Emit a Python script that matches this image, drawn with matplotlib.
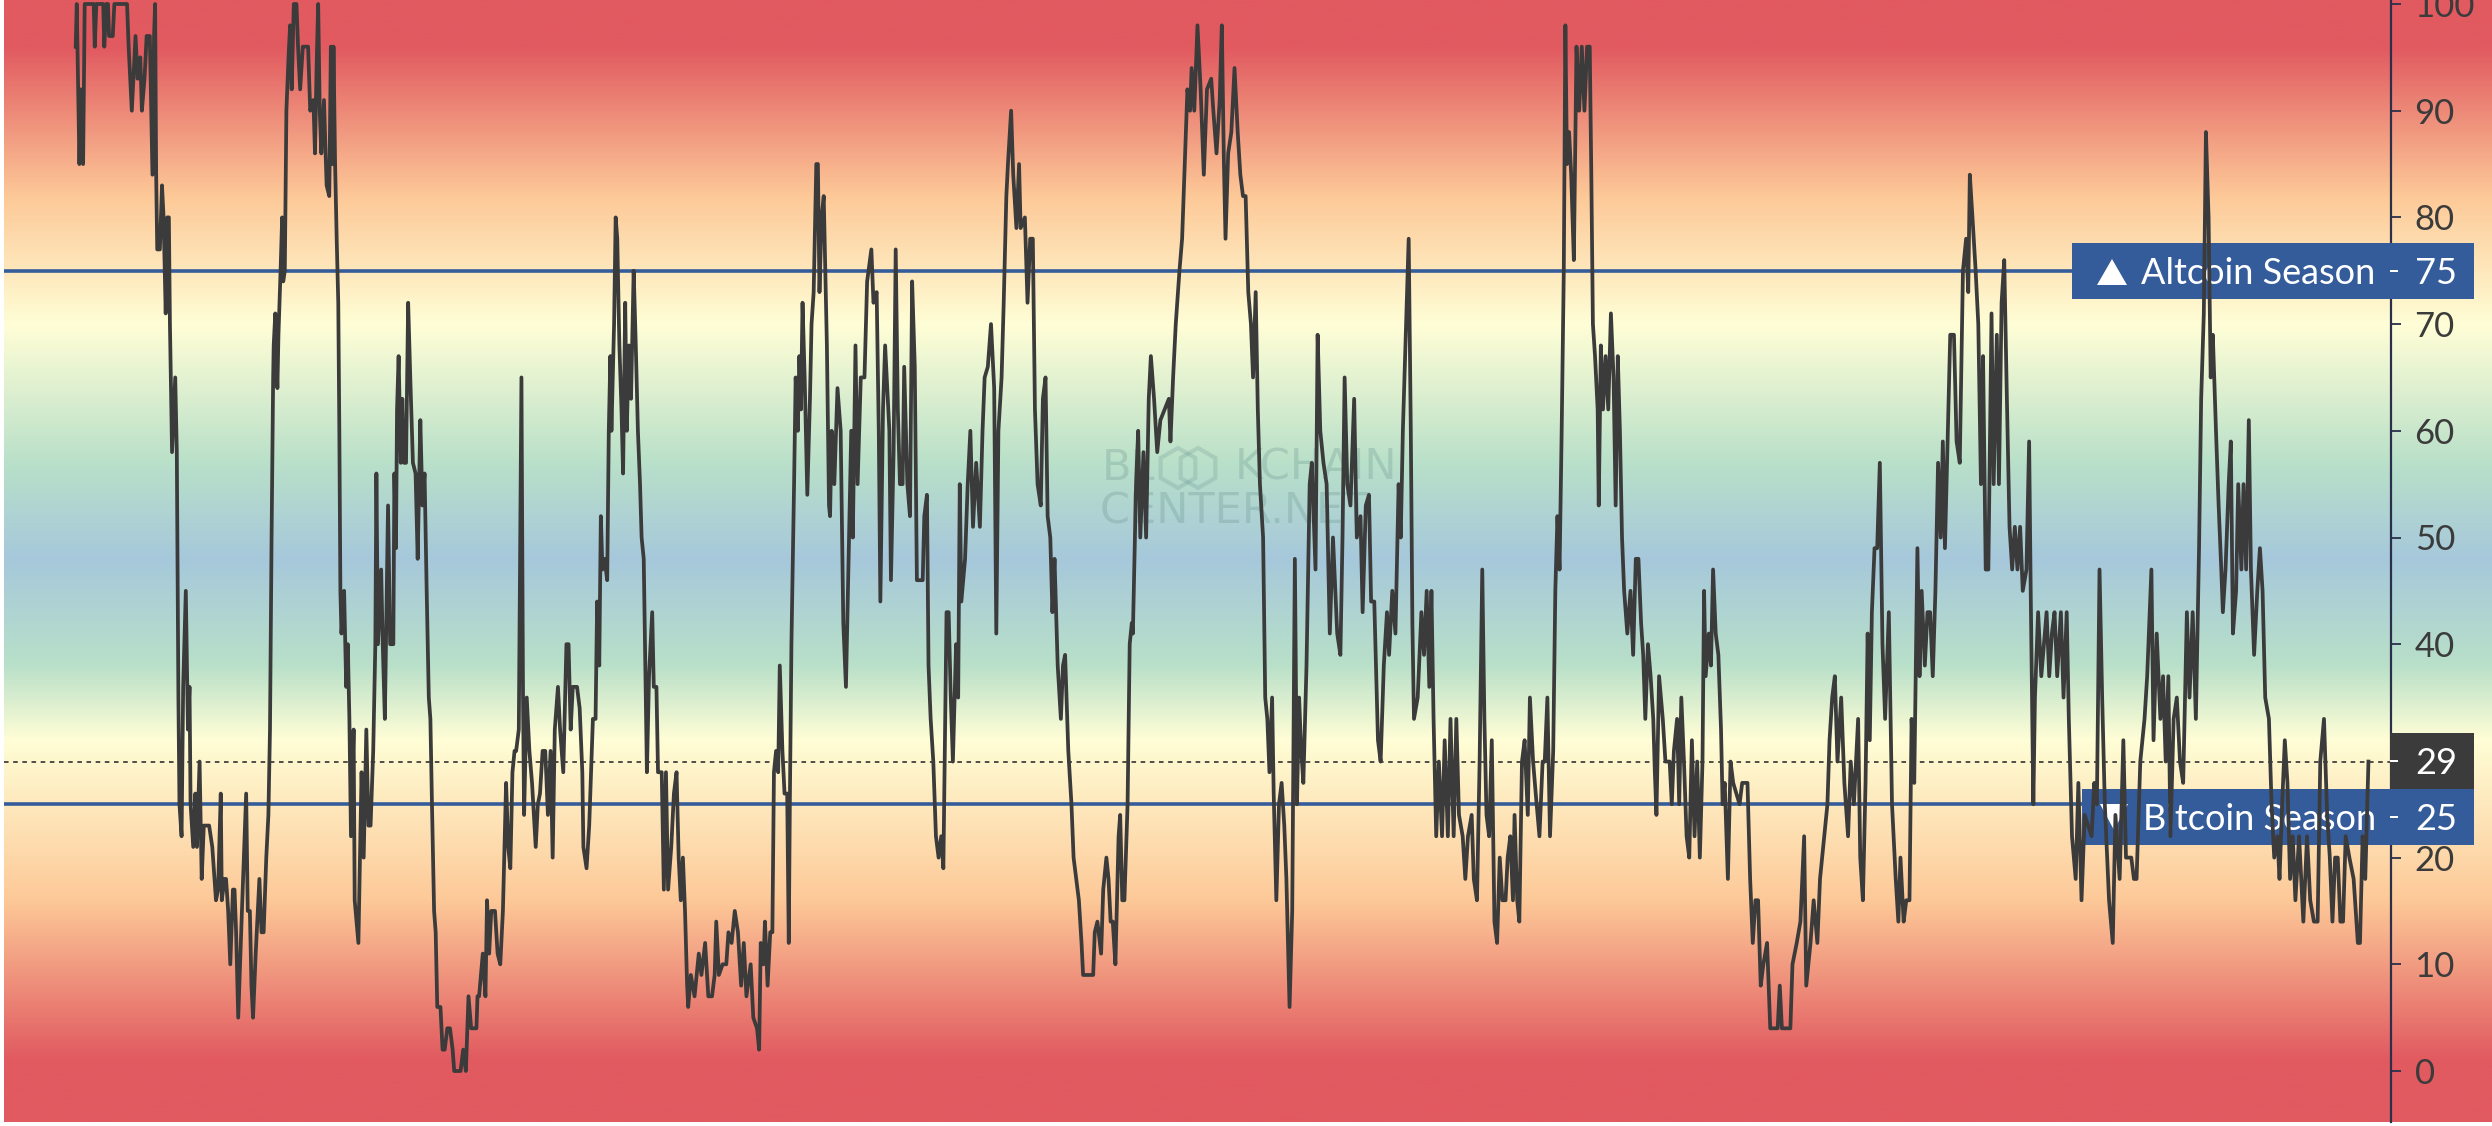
import numpy as np
import matplotlib
matplotlib.use('Agg')
import matplotlib.pyplot as plt
from matplotlib.colors import LinearSegmentedColormap
from matplotlib.patches import Rectangle, Polygon, RegularPolygon
from matplotlib.transforms import Affine2D

# index value trace in three stretches
t_a = [143,145,150,153,157,160,177,179,182,195,197,201,204,206,213,216,240,243,249,256,260,265,268,273,277,283,288,291,293,295,297,302,306,309,313,316,319,321,325,331,334,337,339,343,346,351,355,358,360,365,369,372,377,381,385,395,401,408,412,417,419,424,427,431,435,440,443,446,450,457,465,468,472,475,478,483,490,494,498,503,507,510,513,516,517,520,524,526,530,533,535,538,541,545,548,551,555,560,563,567,572,578,582,586,592,595,598,601,604,607,612,617,622,625,628,630,633,636,639,641,643,645,650,654,657,660,663,668,670,677,683,687,692,696,700,705,709,711,714,720,723,727,733,737,743,745,748,750,753,757,760,763,767,771,775,780,785,789,794,798,802,806,810,813,816,820,823,826,832,836,840,845,850,855,858,870,875,880,885,890,900,902,905,912,917,920,924,928,935,940,945,950,956,960,964,968,972,975,980,985,988,990,995,1000,1005,1012,1016,1020,1025,1030,1035,1040,1044,1048,1054,1058,1064,1070,1074,1078,1082,1090,1095,1100,1102,1108,1113,1120,1125,1128,1132,1135,1138,1142,1147,1150,1153,1155,1160,1163,1166,1170,1174,1177,1181,1184,1188,1192,1197,1201,1205,1209,1212,1216,1220,1222,1226,1232,1235,1240,1243,1250,1254,1258,1262,1268,1273,1278,1282,1286,1290,1294,1298,1300,1305,1312,1316,1320,1325,1332,1338,1345,1350,1353,1358,1365,1372,1376,1382,1388,1394,1400,1405,1410,1418,1423,1430,1434,1437,1442,1445,1450,1455,1459,1462,1466,1470,1473,1478,1482,1487,1490,1492,1495,1500,1503,1507,1510,1513,1516,1520,1525,1530,1533,1537,1542,1545,1548,1552,1556,1562,1566]
v_a = [96,100,85,92,85,100,100,96,100,100,96,100,100,97,97,100,100,96,90,97,93,95,90,93,97,97,84,97,100,84,77,77,83,80,71,80,80,70,58,65,58,35,25,22,36,45,32,36,25,21,26,21,29,18,23,23,21,16,17,26,16,18,18,15,10,17,17,13,5,15,26,15,15,8,5,11,18,13,13,20,24,32,50,65,68,71,64,69,75,80,74,75,90,95,98,92,100,100,96,92,96,96,96,90,91,86,94,100,90,86,91,83,82,96,85,96,85,78,72,60,45,41,45,36,40,33,22,32,16,12,28,20,32,23,23,30,40,56,40,47,40,33,53,40,40,56,49,62,67,57,63,57,57,72,65,57,56,48,61,53,56,45,35,33,25,15,13,6,6,2,2,4,4,2,0,0,2,0,7,4,4,7,7,11,7,16,11,15,15,11,10,15,27,21,19,28,30,30,32,65,35,24,35,30,27,21,25,26,30,30,24,30,20,32,36,32,28,40,40,32,36,36,34,28,21,19,23,33,33,44,38,52,47,48,46,60,67,60,70,80,78,68,62,56,72,60,68,63,75,68,60,55,50,48,35,28,37,43,36,36,28,28,17,28,17,21,26,28,20,16,20,15,8,6,9,7,9,11,9,12,7,7,9,14,9,10,10,13,12,15,13,8,12,7,10,5,4,2,12,10,14,8,13,13,28,30,28,38,30,26,26,12,25,40,55,65,60,67,62,72,65,54,63,70,73,85,85,73,80,82,68,53]

t_b = [0,3,8,14,20,25,30,35,40,43,48,52,58,65,70,78,82,88,92,95,100,104,108,112,115,120,124,128,132,137,140,146,151,155,160,164,175,178,183,186,190,195,200,205,210,214,220,224,228,232,238,242,245,248,255,260,265,270,276,283,288,292,298,304,310,314,318,324,328,333,336,342,346,352,357,360,368,373,378,383,387,392,398,402,407,411,416,420,424,430,436,440,444,450,456,460,465,470,475,478,497,500,505,512,516,522,526,530,534,539,545,548,552,556,562,566,570,572,578,582,586,592,597,602,606,612,618,624,632,640,643,648,653,660,665,670,675,680,683,688,694,700,706,712,720,724,730,736,740,744,747,752,758,764,770,775,780,785,790,795,799,804,808,812,818,822,826,830,835,838,843,848,853,858,862,868,873,878,882,886,890,894,900,906,910,917,921,926,932,938,944,950,958,964,968,972,977,983,990,995,1002,1006,1012,1018,1022,1028,1035,1040,1046,1052,1056,1062,1068,1074,1078,1082,1088,1093,1097,1100,1103,1110,1117,1122,1127,1132,1136,1140,1145,1150,1156,1161,1167,1172,1178,1183,1188,1195,1200,1205,1212,1216,1222,1227,1232,1236,1240,1245,1250,1255,1260,1265,1270,1276,1280,1285,1290,1293,1298,1302,1307,1312,1318,1322,1328,1333,1340,1346,1350,1355,1360,1366,1370,1374,1378,1382,1386,1389,1392,1396,1400,1405,1410,1415,1420,1425,1430,1435,1438,1441,1445,1450,1452,1456,1460,1465,1470,1475,1480,1484,1488,1492,1496,1500,1506,1512,1517,1522,1527,1532,1536,1540,1545,1550,1555,1558,1561,1566]
v_b = [52,60,55,64,60,42,36,48,60,50,68,55,65,65,74,77,72,73,60,44,62,68,64,60,46,58,77,62,55,55,66,55,52,74,66,46,46,52,54,38,33,29,22,20,22,19,43,43,35,29,40,35,55,44,48,55,60,51,57,51,60,65,66,70,64,41,60,65,72,82,85,90,84,79,85,79,80,72,78,78,62,55,53,63,65,52,50,43,48,38,33,38,39,30,25,20,18,16,12,9,9,13,14,11,17,20,18,14,14,10,22,24,16,16,25,40,42,41,55,60,50,58,50,63,67,63,58,61,62,63,59,65,70,75,78,85,92,90,94,90,98,92,84,92,93,90,86,91,98,85,78,86,88,94,88,84,82,82,73,70,65,73,62,55,50,35,33,28,35,26,16,25,27,23,18,6,15,48,25,35,30,27,38,55,57,47,69,60,57,55,41,50,41,39,50,65,55,53,63,50,52,43,53,54,44,44,31,29,38,43,39,45,41,55,50,60,70,78,60,42,33,35,43,39,45,36,45,33,22,29,22,31,22,33,22,33,24,22,18,22,24,18,16,29,47,33,24,22,31,14,12,20,16,16,20,22,16,24,16,14,29,31,24,35,29,26,22,29,29,35,22,30,45,52,47,60,75,98,85,88,84,76,96,90,96,90,96,96,84,70,67,62,53,68,62,67,62,71,65,53,67,60,50,45,41,45,39,48,48,42,39,33,40,37,33,28,24,37]

t_c = [5,10,18,22,26,32,36,40,45,50,55,60,65,70,75,80,83,86,92,96,100,105,110,115,118,122,128,133,138,150,155,165,170,175,180,185,190,195,202,208,222,226,230,246,250,258,265,272,276,284,290,297,302,310,316,320,325,330,335,342,348,355,360,366,374,378,383,388,392,396,400,405,410,415,420,425,432,438,445,450,454,460,465,471,475,480,486,490,494,500,505,510,515,520,525,530,534,538,543,548,555,560,566,572,578,582,585,590,596,601,606,610,615,620,626,630,636,640,645,650,655,660,665,670,675,680,685,692,697,700,705,708,714,720,730,735,740,745,750,757,762,768,772,778,785,790,796,802,815,820,825,830,835,840,848,855,860,868,875,880,890,895,900,907,915,920,928,932,938,945,950,955,960,964,970,976,982,988,995,1000,1006,1012,1018,1022,1027,1031,1036,1040,1044,1050,1055,1060,1063,1068,1074,1078,1082,1088,1092,1098,1102,1107,1112,1116,1122,1128,1133,1138,1143,1150,1155,1160,1166,1170,1175,1180,1185,1190,1195,1200,1207,1215,1222,1228,1235,1242,1247,1254,1260,1265,1270,1275,1280,1285,1290,1295,1302,1310,1318,1322,1327,1332,1338]
v_c = [33,29,29,25,30,33,25,35,29,22,20,31,22,29,20,29,45,37,41,38,47,41,39,32,25,27,18,29,27,25,27,27,18,12,16,16,8,10,12,4,4,8,4,4,10,12,14,22,8,12,16,12,18,22,25,31,35,37,29,35,27,22,29,25,33,20,16,27,41,31,43,49,49,57,40,33,43,25,18,14,20,14,16,16,33,27,49,37,45,38,43,43,37,45,57,50,59,49,59,69,69,59,57,75,78,73,84,80,75,70,55,67,47,47,71,55,69,55,72,76,63,51,47,51,47,51,45,47,59,45,25,35,43,37,43,37,41,43,37,43,35,43,33,22,18,27,16,24,22,27,25,47,35,25,16,12,24,18,31,20,20,18,18,29,33,37,47,31,41,33,37,29,37,22,33,35,29,27,43,35,43,33,49,63,71,88,80,65,69,60,53,47,43,47,55,59,41,45,55,47,55,47,61,47,39,45,49,45,35,33,25,20,22,18,25,31,27,18,22,16,22,14,22,16,14,14,29,33,24,20,14,20,20,14,14,22,20,18,12,12,22,18,29]

y_ticks = [0, 10, 20, 30, 40, 50, 60, 70, 80, 90, 100]
# background colour stops along the value axis
grad_vals = [-5, 1, 16, 31, 38, 48, 57, 70, 82, 96, 101]
grad_cols = ['#e15a60', '#e15a60', '#fdc998', '#fffed6', '#b9e0c9', '#a6c8db', '#b9e0c9', '#fffed6', '#fdc998', '#e15a60', '#e15a60']
altcoin_level = 75
bitcoin_level = 25
current_level = 29

W, H = 2492, 1126
T_PER_PX = 1.889
LINE = '#3b3b3b'
BLUE = '#355c9a'
FONT = 'Lato'

plt.rcParams['font.family'] = FONT

t = np.concatenate([t_a, np.array(t_b) + 1568, np.array(t_c) + 3136])
v = np.concatenate([v_a, v_b, v_c])

fig = plt.figure(figsize=(W / 100, H / 100), dpi=100, facecolor='white')
ax = fig.add_axes([4 / W, 4 / H, (W - 4) / W, 1122 / H])
ax.set_xlim(4 * T_PER_PX, W * T_PER_PX)
ax.set_ylim((1071 - 1122) / 10.67, 1071 / 10.67)

# screen pixels, top left origin, for the price labels and the watermark
px = Affine2D().scale(1, -1).translate(0, H)

# rainbow background
span = ax.get_ylim()
fracs = [(g - grad_vals[0]) / (grad_vals[-1] - grad_vals[0]) for g in grad_vals]
cmap = LinearSegmentedColormap.from_list('season', list(zip(fracs, grad_cols)), N=512)
ax.imshow(np.linspace(grad_vals[0], grad_vals[-1], 512).reshape(-1, 1), origin='lower', aspect='auto',
          cmap=cmap, extent=[ax.get_xlim()[0], ax.get_xlim()[1], grad_vals[0], grad_vals[-1]], zorder=0)
ax.set_ylim(span)

# watermark
mark = '#5f8a86'
ax.text(1102, 468, 'BL', transform=px, fontsize=31, color=mark, alpha=0.26, va='center', ha='left', family='DejaVu Sans', zorder=1)
ax.text(1397, 468, 'KCHAIN', transform=px, fontsize=31, color=mark, alpha=0.26, va='center', ha='right', family='DejaVu Sans', zorder=1)
ax.text(1100, 511, 'CENTER.NET', transform=px, fontsize=31, color=mark, alpha=0.26, va='center', ha='left', family='DejaVu Sans', zorder=1)
for cx in (1178, 1198):
    ax.add_patch(RegularPolygon((cx, 468), 6, radius=20, fill=False, edgecolor=mark, alpha=0.22, lw=3, transform=px, zorder=1))

# level lines
ax.plot([ax.get_xlim()[0], 2072 * T_PER_PX], [altcoin_level] * 2, color=BLUE, lw=2.6, zorder=2)
ax.plot([ax.get_xlim()[0], 2082 * T_PER_PX], [bitcoin_level] * 2, color=BLUE, lw=2.6, zorder=2)
ax.plot([ax.get_xlim()[0], 2391 * T_PER_PX], [current_level] * 2, color='#222222', lw=1.1, dashes=(3, 3), zorder=2)

# right hand price axis
for side in ('top', 'bottom', 'left'):
    ax.spines[side].set_visible(False)
ax.spines['right'].set_position(('data', 2391 * T_PER_PX))
ax.spines['right'].set_color('#2b2f4c')
ax.spines['right'].set_linewidth(1.6)
ax.set_xticks([])
ax.yaxis.set_ticks_position('right')
ax.set_yticks(y_ticks)
ax.tick_params(axis='y', length=7, width=1.3, color='#2b2f4c', pad=10, labelsize=25, labelcolor='#3b3b3b')

# price labels
ax.add_patch(Rectangle((2072, 243), 402, 56, color=BLUE, lw=0, transform=px, zorder=3))
ax.add_patch(Rectangle((2082, 789), 392, 56, color=BLUE, lw=0, transform=px, zorder=3))
ax.add_patch(Rectangle((2390, 733), 84, 56, color=LINE, lw=0, transform=px, zorder=3))
ax.add_patch(Polygon([(2097, 285), (2127, 285), (2112, 259)], color='white', lw=0, transform=px, zorder=4))
ax.add_patch(Polygon([(2100, 804), (2128, 804), (2114, 830)], color='white', lw=0, transform=px, zorder=4))
ax.text(2141, 274, 'Altcoin Season', transform=px, color='white', fontsize=26, va='center', ha='left', zorder=4)
ax.text(2143, 820, 'Bitcoin Season', transform=px, color='white', fontsize=26, va='center', ha='left', zorder=4)
for label, yc in ((altcoin_level, 271), (current_level, 761), (bitcoin_level, 817)):
    ax.text(2415, yc + 3, str(label), transform=px, color='white', fontsize=26, va='center', ha='left', zorder=4)
    ax.add_patch(Rectangle((2390, yc - 1), 8, 2, color='white', lw=0, transform=px, zorder=4))

# the index itself
ax.plot(t, v, color=LINE, lw=2.7, solid_joinstyle='round', zorder=5)

fig.savefig('out.png', dpi=100)
